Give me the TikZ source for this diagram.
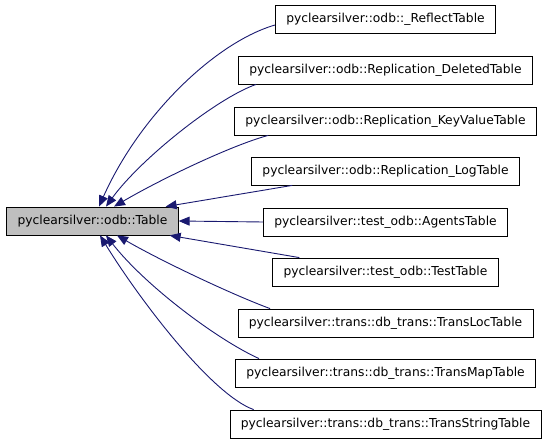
\documentclass[tikz,border=0pt]{standalone}
\usepackage{fontspec}
\setmainfont{DejaVu Sans}
\usetikzlibrary{arrows.meta}
\definecolor{edgeblue}{HTML}{191970}
\definecolor{basegray}{HTML}{BFBFBF}
\tikzset{
  cls/.style={draw=black, line width=0.8pt, fill=white, minimum height=28pt,
    inner xsep=10.8pt, inner ysep=0pt, font=\fontsize{12.3}{14}\selectfont, anchor=center},
  basecls/.style={cls, fill=basegray},
  edge/.style={draw=edgeblue, line width=0.9pt, -{Triangle[length=11pt,width=9pt]}}
}
\begin{document}
\begin{tikzpicture}[x=1pt,y=-1pt]
\useasboundingbox (0,0) rectangle (549,443);
\node[basecls] (main) at (92.5,221) {pyclearsilver::odb::Table};
\node[cls] (n1) at (385.5,19) {pyclearsilver::odb::\_ReflectTable};
\node[cls] (n2) at (385.5,70) {pyclearsilver::odb::Replication\_DeletedTable};
\node[cls] (n3) at (385.5,121) {pyclearsilver::odb::Replication\_KeyValueTable};
\node[cls] (n4) at (385.5,171) {pyclearsilver::odb::Replication\_LogTable};
\node[cls] (n5) at (385.5,222) {pyclearsilver::test\_odb::AgentsTable};
\node[cls] (n6) at (385.5,272) {pyclearsilver::test\_odb::TestTable};
\node[cls] (n7) at (385.5,323) {pyclearsilver::trans::db\_trans::TransLocTable};
\node[cls] (n8) at (385.5,373) {pyclearsilver::trans::db\_trans::TransMapTable};
\node[cls] (n9) at (385.5,424) {pyclearsilver::trans::db\_trans::TransStringTable};

\draw[edge] ([yshift=-6pt]n1.west) .. controls +(-59,17) and +(41,-92) .. ([xshift=6.5pt]main.north);
\draw[edge] ([xshift=18pt]n2.south west) .. controls +(-40,14) and +(34,-47) .. ([xshift=13.5pt]main.north);
\draw[edge] ([xshift=34pt]n3.south west) .. controls +(-37,10) and +(46,-27) .. ([xshift=21.5pt]main.north);
\draw[edge] ([xshift=41pt]n4.south west) -- ([xshift=-13pt]main.north east);
\draw[edge] (n5.west) -- (main.east);
\draw[edge] ([xshift=27pt]n6.north west) -- ([xshift=-9pt]main.south east);
\draw[edge] ([xshift=32.5pt]n7.north west) .. controls +(-38,-14) and +(43,25) .. ([xshift=24.5pt]main.south);
\draw[edge] ([xshift=24pt]n8.north west) .. controls +(-42,-19) and +(39,50) .. ([xshift=13.5pt]main.south);
\draw[edge] ([xshift=24pt]n9.north west) .. controls +(-42,-15) and +(40,65) .. ([xshift=7.5pt]main.south);
\end{tikzpicture}
\end{document}
